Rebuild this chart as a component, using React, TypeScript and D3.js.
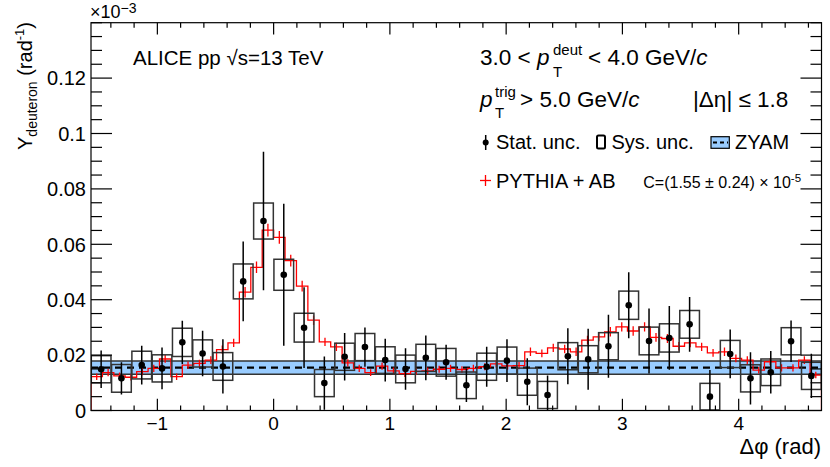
import * as d3 from 'd3';
import React from 'react';

const W = 830;
const H = 467;

// Δφ range of the correlation: [-π/2, 3π/2]
const phiMin = -Math.PI / 2;
const phiMax = (3 * Math.PI) / 2;

// deuteron yield per Δφ bin (36 bins)
const yieldVals = [
  0.0149, 0.0116, 0.0164, 0.0152, 0.0246, 0.0206, 0.0159, 0.0466, 0.0684, 0.049, 0.0299, 0.0099,
  0.0194, 0.0229, 0.0182, 0.0150, 0.0190, 0.0174, 0.0091, 0.0158, 0.0180, 0.0104, 0.0056, 0.0196,
  0.0185, 0.0232, 0.0380, 0.0251, 0.0262, 0.0311, 0.0050, 0.0204, 0.0116, 0.0138, 0.0250, 0.0125,
];
const statErr = [
  0.0068, 0.0058, 0.0070, 0.0075, 0.0078, 0.0082, 0.0098, 0.0144, 0.025, 0.0256, 0.0146, 0.0096,
  0.0086, 0.0071, 0.0077, 0.0075, 0.0081, 0.0063, 0.0060, 0.0072, 0.0077, 0.0085, 0.0070, 0.0101,
  0.0110, 0.0114, 0.0119, 0.0117, 0.0115, 0.0099, 0.0096, 0.0088, 0.0094, 0.0077, 0.0075, 0.0080,
];
const sysErr = [
  0.0049, 0.0050, 0.0050, 0.0049, 0.0051, 0.0049, 0.0050, 0.0063, 0.0065, 0.0056, 0.0052, 0.0049,
  0.0049, 0.0049, 0.0048, 0.0050, 0.0049, 0.0050, 0.0048, 0.0049, 0.0049, 0.0049, 0.0049, 0.0049,
  0.0049, 0.0049, 0.0051, 0.0050, 0.0051, 0.0050, 0.0048, 0.0049, 0.0049, 0.0048, 0.0049, 0.0049,
];

// PYTHIA + AB prediction (64 bins)
const pythiaVals = [
  0.0122, 0.0137, 0.0125, 0.012, 0.014, 0.0152, 0.0186, 0.0122, 0.0164, 0.017, 0.0182, 0.022,
  0.0244, 0.0427, 0.0517, 0.0651, 0.0625, 0.0541, 0.0449, 0.0326, 0.0248, 0.023, 0.0172, 0.0152,
  0.0137, 0.016, 0.0143, 0.0133, 0.0141, 0.0143, 0.0149, 0.0152, 0.0148, 0.0152, 0.0158, 0.0168,
  0.0161, 0.0162, 0.0212, 0.0206, 0.0226, 0.0222, 0.0212, 0.0254, 0.0266, 0.0284, 0.0302, 0.0287,
  0.0302, 0.0264, 0.026, 0.0232, 0.0244, 0.023, 0.0208, 0.0212, 0.0188, 0.0182, 0.0146, 0.0176,
  0.0154, 0.0154, 0.0182, 0.0128,
];
const pythiaErr = [
  0.0012, 0.0013, 0.0012, 0.0012, 0.0013, 0.0013, 0.0014, 0.0012, 0.0013, 0.0013, 0.0014, 0.0015,
  0.0015, 0.0019, 0.0021, 0.0023, 0.0023, 0.0021, 0.0019, 0.0017, 0.0015, 0.0015, 0.0013, 0.0013,
  0.0012, 0.0013, 0.0012, 0.0012, 0.0012, 0.0012, 0.0013, 0.0013, 0.0012, 0.0013, 0.0013, 0.0013,
  0.0013, 0.0013, 0.0015, 0.0014, 0.0015, 0.0015, 0.0015, 0.0016, 0.0016, 0.0017, 0.0017, 0.0017,
  0.0017, 0.0016, 0.0016, 0.0015, 0.0016, 0.0015, 0.0014, 0.0015, 0.0014, 0.0014, 0.0012, 0.0013,
  0.0013, 0.0013, 0.0014, 0.0012,
];

// ZYAM baseline C and its uncertainty
const zyam = 0.0155;
const zyamErr = 0.0024;

const xTicks = [-1, 0, 1, 2, 3, 4];
const xTickLabels = ['\u22121', '0', '1', '2', '3', '4'];
const yTicks = [0, 0.02, 0.04, 0.06, 0.08, 0.1, 0.12];
const yTickLabels = ['0', '0.02', '0.04', '0.06', '0.08', '0.1', '0.12'];

const FONT = "'Liberation Sans', Arial, Helvetica, sans-serif";

const App: React.FC = () => {
  const left = 91;
  const right = 821.5;
  const top = 22.7;
  const bottom = 410.5;

  const x = d3.scaleLinear().domain([phiMin, phiMax]).range([left, right]);
  const y = d3.scaleLinear().domain([0, 0.14]).range([bottom, top]);

  const nData = yieldVals.length;
  const dW = (phiMax - phiMin) / nData;
  const nPy = pythiaVals.length;
  const pW = (phiMax - phiMin) / nPy;

  const yMinor = d3.range(0, 0.1401, 0.005);
  const xMinor = d3.range(-1.4, 4.71, 0.2);

  // step line for pythia histogram
  const stepPts: [number, number][] = [[x(phiMin), y(0)]];
  pythiaVals.forEach((v, i) => {
    stepPts.push([x(phiMin + i * pW), y(v)]);
    stepPts.push([x(phiMin + (i + 1) * pW), y(v)]);
  });
  stepPts.push([x(phiMax), y(0)]);
  const stepPath = d3.line()(stepPts) ?? '';

  const clampY = (v: number) => y(Math.max(0, Math.min(0.14, v)));

  return (
    <svg
      width={W}
      height={H}
      style={{ position: 'fixed', left: 0, top: 0, background: '#fff' }}
      fontFamily={FONT}
    >
      <defs>
        <clipPath id="plot">
          <rect x={left} y={top} width={right - left} height={bottom - top} />
        </clipPath>
      </defs>

      {/* ZYAM band */}
      <g>
        <rect
          x={left}
          y={y(zyam + zyamErr)}
          width={right - left}
          height={y(zyam - zyamErr) - y(zyam + zyamErr)}
          fill="#99ccff"
        />
        <line x1={left} x2={right} y1={y(zyam + zyamErr)} y2={y(zyam + zyamErr)} stroke="#333" strokeWidth={1.5} />
        <line x1={left} x2={right} y1={y(zyam - zyamErr)} y2={y(zyam - zyamErr)} stroke="#333" strokeWidth={1.5} />
        <line
          x1={left}
          x2={right}
          y1={y(zyam)}
          y2={y(zyam)}
          stroke="#000"
          strokeWidth={2.2}
          strokeDasharray="7,5"
        />
      </g>

      {/* PYTHIA + AB */}
      <g clipPath="url(#plot)">
        <path d={stepPath} fill="none" stroke="#ff0000" strokeWidth={1.3} />
        {pythiaVals.map((v, i) => {
          const cx = x(phiMin + (i + 0.5) * pW);
          return (
            <line
              key={i}
              x1={cx}
              x2={cx}
              y1={y(v + pythiaErr[i])}
              y2={y(v - pythiaErr[i])}
              stroke="#ff0000"
              strokeWidth={1.3}
            />
          );
        })}
      </g>

      {/* systematic boxes */}
      <g clipPath="url(#plot)">
        {yieldVals.map((v, i) => (
          <rect
            key={i}
            x={x(phiMin + i * dW) + 0.3}
            y={y(v + sysErr[i])}
            width={x(phiMin + (i + 1) * dW) - x(phiMin + i * dW) - 0.6}
            height={y(v - sysErr[i]) - y(v + sysErr[i])}
            fill="none"
            stroke="#333"
            strokeWidth={1.5}
          />
        ))}
      </g>

      {/* stat errors and points */}
      <g clipPath="url(#plot)">
        {yieldVals.map((v, i) => {
          const cx = x(phiMin + (i + 0.5) * dW);
          return (
            <g key={i}>
              <line
                x1={cx}
                x2={cx}
                y1={clampY(v + statErr[i])}
                y2={clampY(v - statErr[i])}
                stroke="#000"
                strokeWidth={1.5}
              />
              <circle cx={cx} cy={y(v)} r={3.3} fill="#000" />
            </g>
          );
        })}
      </g>

      {/* frame */}
      <rect x={left} y={top} width={right - left} height={bottom - top} fill="none" stroke="#000" strokeWidth={1.2} />

      {/* y ticks */}
      <g stroke="#000" strokeWidth={1.2}>
        {yMinor.map((t, i) => {
          const major = yTicks.some((m) => Math.abs(m - t) < 1e-6);
          const len = major ? 21 : 11;
          return (
            <g key={i}>
              <line x1={left} x2={left + len} y1={y(t)} y2={y(t)} />
              <line x1={right} x2={right - len} y1={y(t)} y2={y(t)} />
            </g>
          );
        })}
      </g>
      <g fontSize={20} textAnchor="end">
        {yTicks.map((t, i) => (
          <text key={i} x={86} y={y(t)} dy="0.36em">
            {yTickLabels[i]}
          </text>
        ))}
      </g>

      {/* x ticks */}
      <g stroke="#000" strokeWidth={1.2}>
        {xMinor.map((t, i) => {
          const major = xTicks.some((m) => Math.abs(m - t) < 1e-6);
          const len = major ? 11.7 : 5;
          return (
            <g key={i}>
              <line x1={x(t)} x2={x(t)} y1={bottom} y2={bottom - len} />
              <line x1={x(t)} x2={x(t)} y1={top} y2={top + len} />
            </g>
          );
        })}
      </g>
      <g fontSize={19} textAnchor="middle">
        {xTicks.map((t, i) => (
          <text key={i} x={x(t)} y={430}>
            {xTickLabels[i]}
          </text>
        ))}
      </g>

      {/* axis titles */}
      <text x={821} y={454} fontSize={22} textAnchor="end">
        Δφ (rad)
      </text>
      <text transform="translate(32,22) rotate(-90)" fontSize={20} textAnchor="end">
        Y<tspan fontSize={14} dy={5}>deuteron</tspan>
        <tspan dy={-5}> (rad</tspan>
        <tspan fontSize={13} dy={-8}>-1</tspan>
        <tspan dy={8}>)</tspan>
      </text>
      <text x={90} y={17.5} fontSize={18}>
        ×10<tspan fontSize={14} dy={-5}>−3</tspan>
      </text>

      {/* annotations */}
      <text x={133} y={65} fontSize={20.5}>
        ALICE pp √s=13 TeV
      </text>

      <text x={480} y={65} fontSize={22.5}>
        3.0 &lt;
      </text>
      <text x={537} y={65} fontSize={22.5} fontStyle="italic">
        p
      </text>
      <text x={553} y={55} fontSize={15}>
        deut
      </text>
      <text x={553} y={76.5} fontSize={15}>
        T
      </text>
      <text x={588} y={65} fontSize={22.5}>
        &lt; 4.0 GeV/<tspan fontStyle="italic">c</tspan>
      </text>

      <text x={480} y={107.3} fontSize={22.5} fontStyle="italic">
        p
      </text>
      <text x={495} y={96.7} fontSize={15}>
        trig
      </text>
      <text x={495} y={118} fontSize={15}>
        T
      </text>
      <text x={520} y={107.3} fontSize={22.5}>
        &gt; 5.0 GeV/<tspan fontStyle="italic">c</tspan>
      </text>
      <text x={693} y={107.3} fontSize={22.5}>
        |Δη| ≤ 1.8
      </text>

      {/* legend */}
      <line x1={485.7} x2={485.7} y1={135} y2={150} stroke="#000" strokeWidth={1.5} />
      <circle cx={485.7} cy={142.5} r={3} fill="#000" />
      <text x={496} y={149} fontSize={20}>
        Stat. unc.
      </text>
      <rect x={597} y={135.5} width={8} height={13} rx={1.5} fill="none" stroke="#000" strokeWidth={2} />
      <text x={611.5} y={149} fontSize={20}>
        Sys. unc.
      </text>
      <rect x={711} y={136.7} width={18.3} height={11.6} fill="#99ccff" stroke="#000" strokeWidth={1.2} />
      <line x1={713} x2={728} y1={142.5} y2={142.5} stroke="#000" strokeWidth={1.8} strokeDasharray="4,3" />
      <text x={735} y={149} fontSize={20}>
        ZYAM
      </text>

      <line x1={480} x2={491} y1={180.5} y2={180.5} stroke="#ff0000" strokeWidth={1.3} />
      <line x1={485.5} x2={485.5} y1={175} y2={186} stroke="#ff0000" strokeWidth={1.3} />
      <text x={496} y={188.3} fontSize={20}>
        PYTHIA + AB
      </text>
      <text x={643.3} y={188.3} fontSize={16}>
        C=(1.55 ± 0.24) × 10<tspan fontSize={11.5} dy={-6.5}>-5</tspan>
      </text>
    </svg>
  );
};

export default App;
